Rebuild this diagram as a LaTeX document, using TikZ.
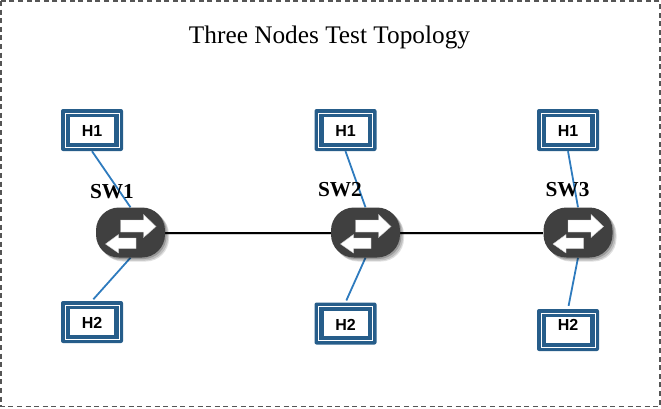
\documentclass[tikz,border=0pt]{standalone}
\usepackage{fontspec}
\setmainfont{Liberation Serif}
\newfontfamily\hostfont{Liberation Sans}
\usetikzlibrary{shadows,backgrounds}
\definecolor{hostblue}{HTML}{265D8A}
\definecolor{linkblue}{HTML}{2E7BBE}
\definecolor{swgray}{HTML}{404040}
\definecolor{framegray}{HTML}{555555}
\tikzset{
  frame/.style={draw=framegray,line width=1.9pt,dash pattern=on 5pt off 3.6pt},
  titlelabel/.style={font=\fontsize{25.3}{28}\selectfont,inner sep=0pt},
  swlabel/.style={font=\fontsize{21.3}{24}\selectfont\bfseries,inner sep=0pt},
  hostlabel/.style={font=\hostfont\fontsize{16}{18}\selectfont\bfseries,inner sep=0pt,text=black,yshift=-1pt},
  hostbox/.style={rectangle,fill=hostblue,rounded corners=2pt,minimum width=62pt,minimum height=42pt,inner sep=0pt,
    path picture={
      \draw[white,line width=.7pt,sharp corners] ([shift={(4pt,4pt)}]path picture bounding box.south west) rectangle ([shift={(-4pt,-4pt)}]path picture bounding box.north east);
      \fill[white,sharp corners] ([shift={(9pt,8.3pt)}]path picture bounding box.south west) rectangle ([shift={(-9pt,-8.3pt)}]path picture bounding box.north east);
    }},
  swarrow/.style={fill=white,draw=black!20,line width=.4pt,line join=miter,sharp corners},
  swnode/.style={rectangle,fill=swgray,rounded corners=23pt,minimum width=69pt,minimum height=50pt,inner sep=0pt,
    drop shadow={fill=black,opacity=.12,shadow xshift=4pt,shadow yshift=-4pt},
    drop shadow={fill=black,opacity=.15,shadow xshift=3pt,shadow yshift=-3pt},
    drop shadow={fill=black,opacity=.2,shadow xshift=1.5pt,shadow yshift=-1.5pt},
    path picture={
      \begin{scope}[shift=(path picture bounding box.center),x=1pt,y=1pt,sharp corners]
        \draw[swarrow] (-10,12.5) -- (13,12.5) -- (13,18) -- (25.5,6) -- (13,-5) -- (13,0.5) -- (-10,0.5) -- cycle;
        \draw[swarrow] (5.5,-5.5) -- (-12,-5.5) -- (-12,-2) -- (-25,-11.5) -- (-12,-20.5) -- (-12,-16) -- (5.5,-16) -- cycle;
      \end{scope}
    }},
  hostlink/.style={draw=linkblue,line width=1.8pt},
  trunk/.style={draw=black,line width=2pt,preaction={draw=black!18,line width=1.6pt,transform canvas={yshift=-1.8pt}}},
}
\begin{document}
\begin{tikzpicture}[x=1pt,y=-1pt]
\useasboundingbox (0,0) rectangle (661,408);
\draw[frame] (1,1) rectangle (660,406.5);
\node[titlelabel] (title) at (329.5,37.5) {Three Nodes Test Topology};
\node[hostbox,label={[hostlabel]center:H1}] (ha1) at (92,130) {};
\node[hostbox,label={[hostlabel]center:H2}] (ha2) at (92,322) {};
\node[hostbox,label={[hostlabel]center:H1}] (hb1) at (345.5,130) {};
\node[hostbox,label={[hostlabel]center:H2}] (hb2) at (345.5,323.5) {};
\node[hostbox,label={[hostlabel]center:H1}] (hc1) at (568,130) {};
\node[hostbox,label={[hostlabel,yshift=6pt]center:H2}] (hc2) at (568,330) {};
\node[swnode] (sw1) at (130.5,232.5) {};
\node[swnode] (sw2) at (365.5,232.5) {};
\node[swnode] (sw3) at (578,232.5) {};
\node[swlabel] (la) at (112,192) {SW1};
\node[swlabel] (lb) at (340,189.5) {SW2};
\node[swlabel] (lc) at (567.5,189.5) {SW3};
\begin{pgfonlayer}{background}
\draw[hostlink] (ha1.south) -- (sw1.north);
\draw[hostlink] (hb1.south) -- (sw2.north);
\draw[hostlink] (hc1.south) -- (sw3.north);
\draw[hostlink,shorten >=2pt] (sw1.south) -- (ha2.north);
\draw[hostlink,shorten >=2pt] (sw2.south) -- (hb2.north);
\draw[hostlink,shorten >=3pt] (sw3.south) -- (hc2.north);
\draw[trunk] (sw1.east) -- (sw2.west);
\draw[trunk] (sw2.east) -- (sw3.west);
\end{pgfonlayer}
\end{tikzpicture}
\end{document}
